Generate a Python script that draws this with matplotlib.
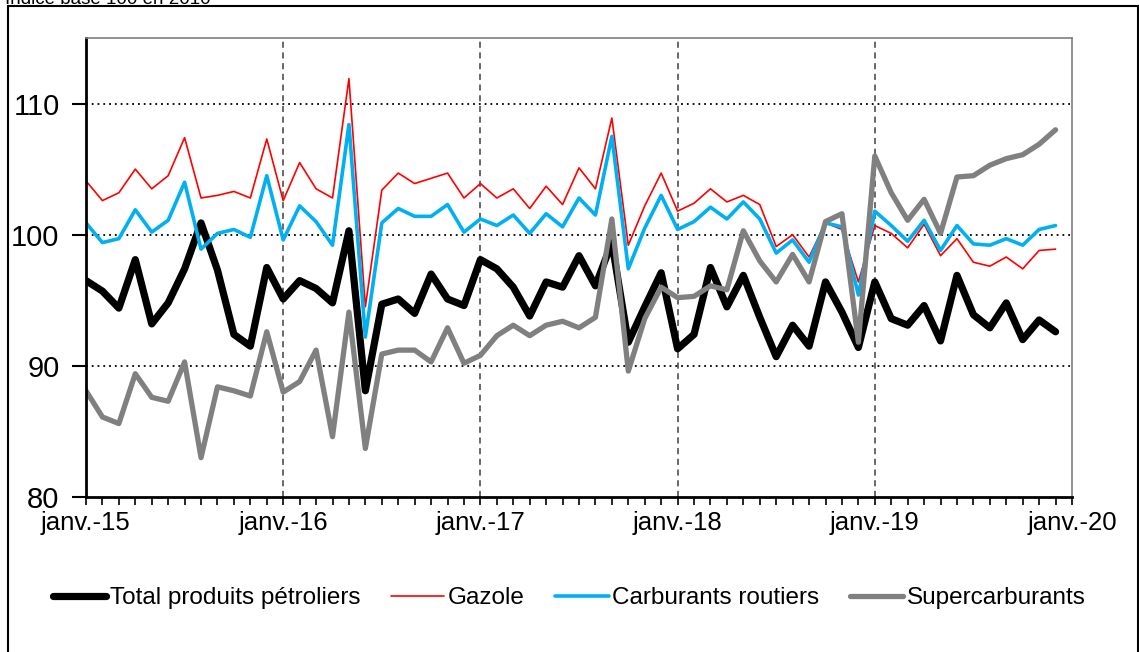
import matplotlib
matplotlib.use("Agg")
import matplotlib.pyplot as plt
from matplotlib.patches import Rectangle
from matplotlib.ticker import FixedLocator, MultipleLocator

plt.rcParams['font.family'] = ['Liberation Sans', 'DejaVu Sans']

# Monthly data, janv.-15 .. déc.-19 (indice base 100 en 2010)
total = [96.5, 95.7, 94.4, 98.1, 93.2, 94.8, 97.4, 100.9, 97.3, 92.4, 91.5, 97.5,
         95.1, 96.5, 95.9, 94.8, 100.3, 88.1, 94.7, 95.1, 94.0, 97.0, 95.1, 94.6,
         98.1, 97.4, 96.0, 93.8, 96.4, 96.0, 98.4, 96.1, 99.4, 91.8, 94.5, 97.1,
         91.3, 92.4, 97.5, 94.5, 96.9, 93.7, 90.7, 93.1, 91.5, 96.4, 94.1, 91.4,
         96.4, 93.6, 93.1, 94.6, 91.9, 96.9, 93.9, 92.9, 94.8, 92.0, 93.5, 92.6]
gazole = [104.1, 102.6, 103.2, 105.0, 103.5, 104.5, 107.4, 102.8, 103.0, 103.3, 102.8, 107.3,
          102.6, 105.5, 103.5, 102.8, 111.9, 94.5, 103.4, 104.7, 103.9, 104.3, 104.7, 102.8,
          103.9, 102.8, 103.5, 102.0, 103.7, 102.3, 105.1, 103.5, 108.9, 99.2, 102.2, 104.7,
          101.8, 102.4, 103.5, 102.5, 103.0, 102.3, 99.1, 100.0, 98.3, 100.9, 100.4, 96.4,
          100.7, 100.1, 99.0, 100.8, 98.4, 99.7, 97.9, 97.6, 98.3, 97.4, 98.8, 98.9]
carburants = [100.9, 99.4, 99.7, 101.9, 100.2, 101.1, 104.0, 98.9, 100.1, 100.4, 99.8, 104.5,
              99.6, 102.2, 101.0, 99.2, 108.4, 92.2, 100.9, 102.0, 101.4, 101.4, 102.3, 100.2,
              101.2, 100.7, 101.5, 100.1, 101.6, 100.6, 102.8, 101.5, 107.5, 97.4, 100.5, 103.0,
              100.4, 101.0, 102.1, 101.2, 102.5, 101.2, 98.6, 99.6, 97.9, 100.9, 100.6, 95.4,
              101.8, 100.7, 99.5, 101.1, 98.8, 100.7, 99.3, 99.2, 99.7, 99.2, 100.4, 100.7]
super_ = [88.1, 86.1, 85.6, 89.4, 87.6, 87.3, 90.3, 83.0, 88.4, 88.1, 87.7, 92.6,
          88.0, 88.8, 91.2, 84.6, 94.1, 83.7, 90.9, 91.2, 91.2, 90.3, 92.9, 90.2,
          90.8, 92.3, 93.1, 92.3, 93.1, 93.4, 92.9, 93.7, 101.2, 89.6, 93.6, 96.0,
          95.2, 95.3, 96.1, 95.8, 100.3, 98.0, 96.4, 98.5, 96.4, 101.0, 101.6, 91.8,
          106.0, 103.2, 101.1, 102.7, 100.1, 104.4, 104.5, 105.3, 105.8, 106.1, 106.9, 108.0]

year_labels = ["janv.-15", "janv.-16", "janv.-17", "janv.-18", "janv.-19", "janv.-20"]
series_names = ["Total produits pétroliers", "Gazole", "Carburants routiers", "Supercarburants"]
y_ticks = [80, 90, 100, 110]

W, H = 1139, 652
fig = plt.figure(figsize=(W / 100, H / 100), dpi=100)
ax = fig.add_axes([86 / W, 1 - 497 / H, (1072 - 86) / W, (497 - 38) / H])

x = list(range(len(total)))
styles = [
    (total, "#000000", 5.2),
    (gazole, "#FF0000", 1.2),
    (carburants, "#00B0F0", 2.6),
    (super_, "#808080", 3.8),
]
for (vals, col, lw), name in zip(styles, series_names):
    ax.plot(x, vals, color=col, lw=lw, label=name,
            solid_joinstyle='round', solid_capstyle='round')

ax.set_xlim(0, 60)
ax.set_ylim(80, 115)

ax.xaxis.set_major_locator(FixedLocator([12 * i for i in range(len(year_labels))]))
ax.set_xticklabels(year_labels)
ax.xaxis.set_minor_locator(MultipleLocator(1))
ax.set_yticks(y_ticks)
ax.set_yticklabels([str(v) for v in y_ticks])

ax.tick_params(axis='x', which='both', direction='out', length=6, width=1.2,
               labelsize=18.5, pad=4, colors='black')
ax.tick_params(axis='y', which='major', direction='out', length=10, width=1.5,
               labelsize=21, pad=9)
ax.tick_params(axis='y', which='minor', left=False)

for v in y_ticks[1:]:
    ax.axhline(v, color='black', lw=1.3, ls=(0, (1, 2.2)), zorder=0.5)
for i in range(1, len(year_labels) - 1):
    ax.axvline(12 * i, color='#404040', lw=1.1, ls=(0, (4, 3)), zorder=0.5)

ax.spines['left'].set_linewidth(2)
ax.spines['bottom'].set_linewidth(2)
ax.spines['top'].set_color('#7f7f7f')
ax.spines['right'].set_color('#7f7f7f')
ax.spines['top'].set_linewidth(1.2)
ax.spines['right'].set_linewidth(1.2)

leg = fig.legend(loc='center', bbox_to_anchor=(0.5, 1 - 598 / H), ncol=4,
                 frameon=False, fontsize=17.5, handlelength=2.2,
                 handletextpad=0.15, columnspacing=1.25)

# Outer frame
fig.patches.append(Rectangle((7.5 / W, -0.01), (1137.5 - 7.5) / W, 1.01 - 6 / H,
                             transform=fig.transFigure, fill=False,
                             edgecolor='black', lw=1.5))
fig.text(5 / W, 1 - 4 / H, "Indice base 100 en 2010", fontsize=13.5,
         ha='left', va='baseline')

fig.savefig("out.png", dpi=100)
